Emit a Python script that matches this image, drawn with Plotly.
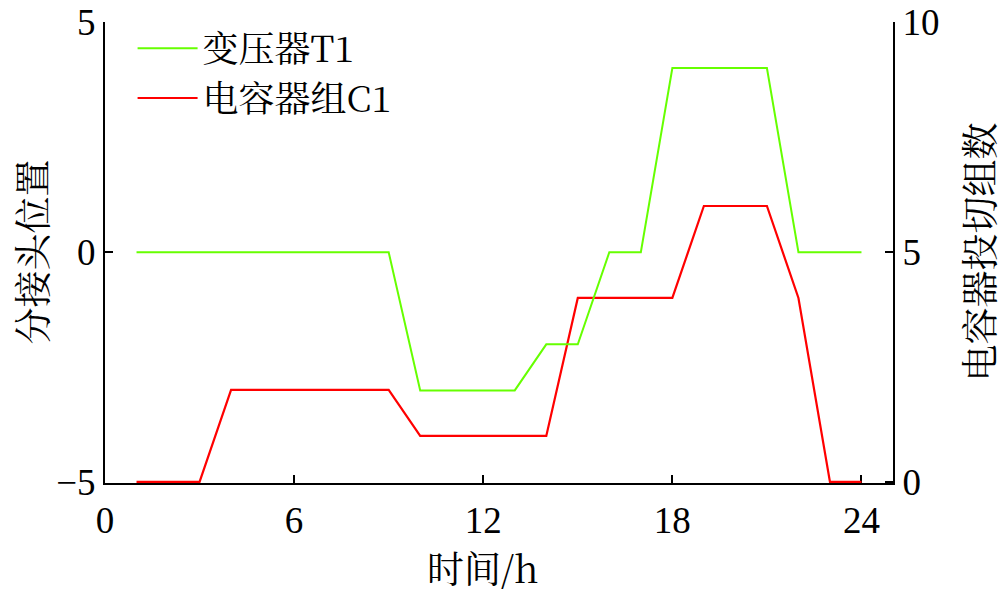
import plotly.graph_objects as go

hours = list(range(1, 25))
transformer_t1 = [0, 0, 0, 0, 0, 0, 0, 0, 0, -3, -3, -3, -3, -2, -2, 0, 0, 4, 4, 4, 4, 0, 0, 0]
capacitor_c1 = [0, 0, 0, 2, 2, 2, 2, 2, 2, 1, 1, 1, 1, 1, 4, 4, 4, 4, 6, 6, 6, 4, 0, 0]
x_ticks = [0, 6, 12, 18, 24]
y_left_ticks = [-5, 0, 5]
y_right_ticks = [0, 5, 10]

FONT = "Liberation Serif, Times New Roman, Noto Sans CJK SC"
CJK = "Noto Serif CJK SC, Noto Sans CJK SC, Liberation Serif"
FS = 37

fig = go.Figure()
fig.add_trace(go.Scatter(x=hours, y=transformer_t1, mode="lines", name="变压器T1",
                         line=dict(color="#66ff00", width=2), yaxis="y2", cliponaxis=False))
fig.add_trace(go.Scatter(x=hours, y=capacitor_c1, mode="lines", name="电容器组C1",
                         line=dict(color="#ff0000", width=2.2), yaxis="y", cliponaxis=False))

axis_common = dict(showline=True, linecolor="black", linewidth=2, ticks="inside",
                   ticklen=8, tickwidth=2, tickcolor="black", showgrid=False,
                   zeroline=False, layer="below traces", automargin=False,
                   tickfont=dict(family=FONT, size=FS, color="black"))

fig.update_layout(
    width=1000, height=592,
    margin=dict(l=105, r=107, t=22, b=109),
    paper_bgcolor="white", plot_bgcolor="white",
    showlegend=True,
    legend=dict(x=0.035, y=1.008, xanchor="left", yanchor="top",
                bgcolor="rgba(0,0,0,0)", font=dict(family=CJK, size=36, color="black"),
                tracegroupgap=0, itemwidth=60, traceorder="normal"),
    xaxis=dict(range=[0, 25], tickvals=x_ticks, ticktext=[str(v) for v in x_ticks],
               ticklabelstandoff=4, **axis_common),
    yaxis=dict(range=[-0.023, 10], tickvals=y_right_ticks, side="right", **axis_common),
    yaxis2=dict(range=[-5.0115, 5], tickvals=y_left_ticks, ticktext=["\u22125", "0", "5"],
                overlaying="y", side="left", anchor="x", **axis_common),
    annotations=[
        dict(text="分接头位置", xref="paper", yref="paper", x=0, y=0.5, xshift=-75,
             showarrow=False, textangle=-90, xanchor="center", yanchor="middle",
             font=dict(family=CJK, size=37, color="black")),
        dict(text="电容器投切组数", xref="paper", yref="paper", x=1, y=0.5, xshift=84,
             showarrow=False, textangle=-90, xanchor="center", yanchor="middle",
             font=dict(family=CJK, size=37, color="black")),
        dict(text="时间/h", xref="paper", yref="paper", x=0.48, y=0, yshift=-84,
             showarrow=False, xanchor="center", yanchor="middle",
             font=dict(family=CJK, size=37, color="black")),
    ],
)

fig.write_html("out.html", config={"displayModeBar": False},
               post_script="document.body.style.margin='0px';")
